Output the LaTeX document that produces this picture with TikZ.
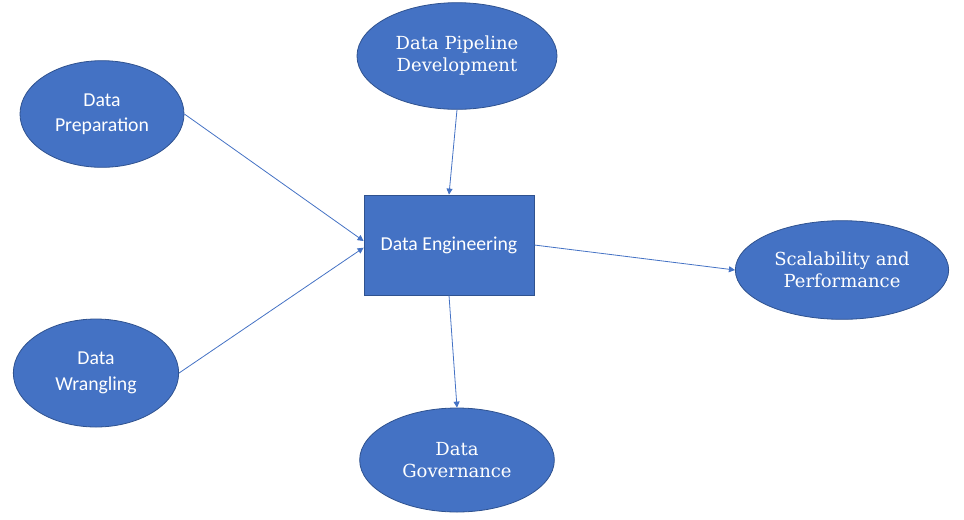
\documentclass[tikz,border=0pt]{standalone}
\usepackage{fontspec}
\usepackage{xcolor}
\usepackage{tikz}
\usetikzlibrary{shapes.geometric}
\usetikzlibrary{arrows.meta}
\setmainfont{DejaVu Serif}
\newfontfamily\calib{Carlito}
\definecolor{fillblue}{HTML}{4472C4}
\definecolor{edgeblue}{HTML}{2F528F}

\begin{document}
\begin{tikzpicture}[x = 0.75pt, y = -0.75pt,
	bubble/.style = {ellipse, draw = edgeblue, line width = 0.6pt, fill = fillblue, text = white, inner sep = 0pt, align = center},
	core/.style = {rectangle, draw = edgeblue, line width = 0.6pt, fill = fillblue, text = white, inner sep = 0pt, minimum width = 127.5pt, minimum height = 75pt, font = \calib\fontsize{14.8}{18}\selectfont},
	link/.style = {draw = fillblue, line width = 0.6pt, -{Triangle[length = 4.5pt, width = 4.5pt]}}]
	\useasboundingbox (0,0) rectangle (964,519);
	\node[core] (eng) at (449,245) {Data Engineering};
	\node[bubble, minimum width = 150pt, minimum height = 80pt, font = \fontsize{13.5}{16.5}\selectfont] (pipe) at (457,56) {Data Pipeline\\Development};
	\node[bubble, minimum width = 123pt, minimum height = 80pt, font = \calib\fontsize{14.8}{19}\selectfont] (prep) at (102,114) {Data\\Preparation};
	\node[bubble, minimum width = 124pt, minimum height = 81pt, font = \calib\fontsize{14.8}{19}\selectfont] (wrang) at (96,373) {Data\\Wrangling};
	\node[bubble, minimum width = 160pt, minimum height = 74pt, font = \fontsize{13.5}{16.5}\selectfont] (scale) at (842,270) {Scalability and\\Performance};
	\node[bubble, minimum width = 146pt, minimum height = 78pt, font = \fontsize{13.5}{16.5}\selectfont] (gov) at (457,460) {Data\\Governance};
	\draw[link] (prep.east) -- ([yshift = 3pt]eng.west);
	\draw[link] (wrang.east) -- ([yshift = -2pt]eng.west);
	\draw[link] (pipe.south) -- (eng.north);
	\draw[link] (eng.east) -- (scale.west);
	\draw[link] (eng.south) -- (gov.north);
\end{tikzpicture}
\end{document}
